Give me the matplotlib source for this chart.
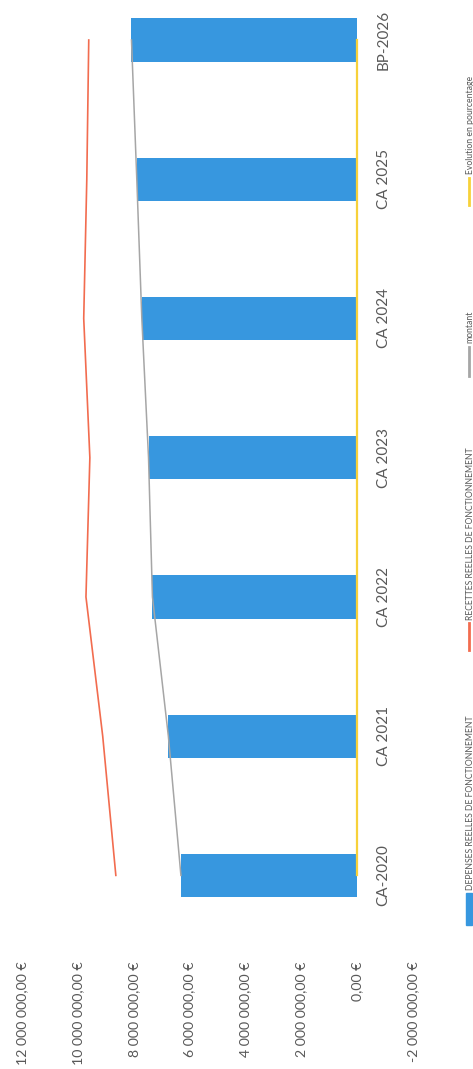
import matplotlib
matplotlib.use('Agg')
import matplotlib.pyplot as plt
from matplotlib.lines import Line2D
from matplotlib.patches import Rectangle
import numpy as np

plt.rcParams['font.family'] = ['Lato', 'DejaVu Sans']

annees = ['CA-2020', 'CA 2021', 'CA 2022', 'CA 2023', 'CA 2024', 'CA 2025', 'BP-2026']
depenses = [6310000, 6760000, 7330000, 7470000, 7710000, 7890000, 8080000]
recettes = [8640000, 9110000, 9710000, 9570000, 9790000, 9680000, 9610000]
montant = [6310000, 6760000, 7330000, 7470000, 7710000, 7890000, 8080000]
evolution = [0.0, 0.0713, 0.0843, 0.0191, 0.0321, 0.0233, 0.0241]
graduations = [-2000000, 0, 2000000, 4000000, 6000000, 8000000, 10000000, 12000000]

bleu = '#3797df'
orange = '#f26c4f'
gris = '#a6a6a6'
jaune = '#f7d13a'
txt = '#595959'


def euro(v):
    s = '{:,.2f}'.format(v).replace(',', ' ').replace('.', ',')
    return s + ' €'


W, H = 473, 1069
fig = plt.figure(figsize=(W / 100, H / 100), dpi=100)
# page scannee tournee de 90 degres : l'axe des montants est horizontal et inverse
ax = fig.add_axes([22 / W, 124 / H, 391 / W, 974.6 / H])

y = np.arange(len(annees))
ax.barh(y, depenses, height=0.31, color=bleu, zorder=2)
ax.plot(recettes, y, color=orange, linewidth=1.2, zorder=3)
ax.plot(montant, y, color=gris, linewidth=1.1, zorder=3)
ax.plot(evolution, y, color=jaune, linewidth=1.6, zorder=3)

ax.set_xlim(12000000, -2000000)
ax.set_ylim(-0.5, len(annees) - 0.5)

ax.set_xticks(graduations)
ax.set_xticklabels([euro(v) for v in graduations], rotation=90, fontsize=10.2, color=txt)
ax.tick_params(axis='x', length=0, pad=12)

ax.yaxis.tick_right()
ax.spines['right'].set_position(('data', 0))
ax.set_yticks(y)
ax.set_yticklabels(annees, rotation=90, fontsize=11, color=txt, va='center')
ax.tick_params(axis='y', length=0, pad=14)
for sp in ax.spines.values():
    sp.set_visible(False)

# legende verticale le long du bord droit
xl = 470 / W
entrees = [
    ('DEPENSES REELLES DE FONCTIONNEMENT', bleu, 'rect', 890, 893, 925),
    ('RECETTES REELLES DE FONCTIONNEMENT', orange, 'line', 620, 623, 650),
    ('montant', gris, 'line', 343, 347, 376),
    ('Evolution en pourcentage', jaune, 'line', 174, 178, 205),
]
for label, couleur, kind, ytxt, k0, k1 in entrees:
    fig.text(xl, 1 - ytxt / H, label, rotation=90, fontsize=6.2, color=txt,
             ha='center', va='bottom')
    if kind == 'rect':
        fig.add_artist(Rectangle((466 / W, 1 - k1 / H), 6 / W, (k1 - k0) / H,
                                 transform=fig.transFigure, color=couleur))
    else:
        fig.add_artist(Line2D([469 / W, 469 / W], [1 - k0 / H, 1 - k1 / H],
                              transform=fig.transFigure, color=couleur, linewidth=2))

fig.savefig('out.png', dpi=100)
